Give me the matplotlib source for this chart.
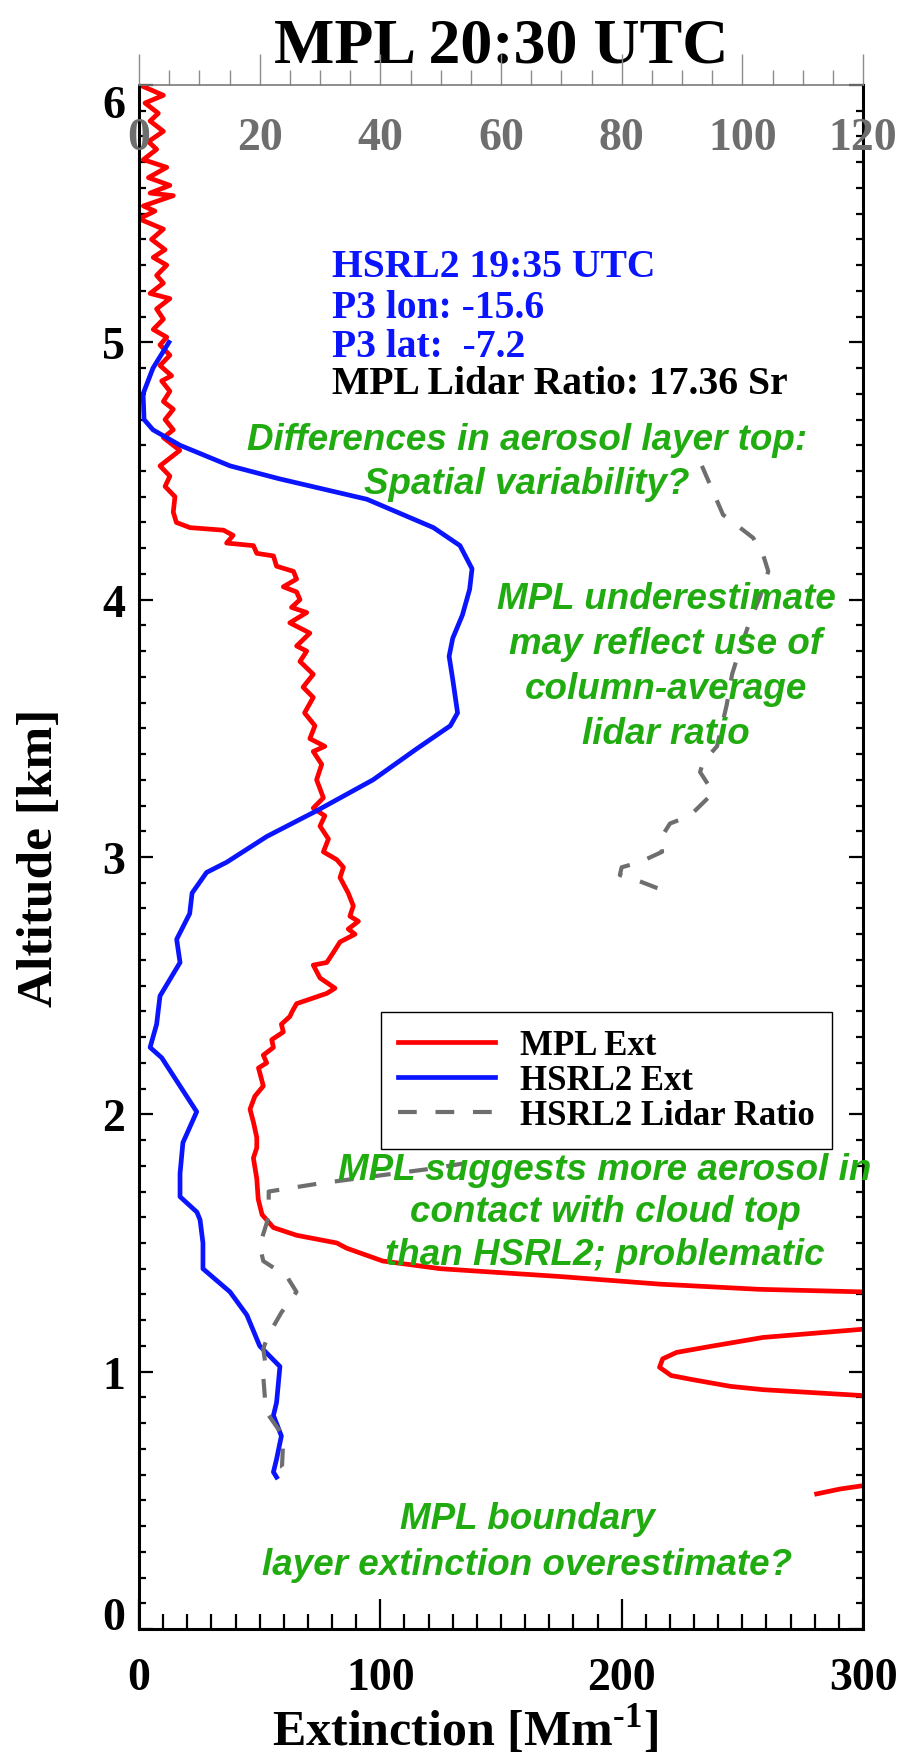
import numpy as np
import matplotlib.pyplot as plt

plt.rcParams['font.family'] = ['Liberation Serif', 'DejaVu Serif']
plt.rcParams['font.weight'] = 'bold'
plt.rcParams['axes.labelweight'] = 'bold'
plt.rcParams['mathtext.fontset'] = 'custom'
plt.rcParams['mathtext.rm'] = 'Liberation Serif:bold'
plt.rcParams['mathtext.bf'] = 'Liberation Serif:bold'

# MPL extinction profile (Mm-1), altitude in km; NaN marks where the curve leaves the plot
mpl_alt = [6.00, 5.96, 5.93, 5.89, 5.86, 5.82, 5.78, 5.75, 5.71, 5.68, 5.64, 5.61, 5.58, 5.57,
           5.53, 5.51, 5.48, 5.44, 5.40, 5.36, 5.33, 5.30, 5.26, 5.23, 5.19, 5.17, 5.13, 5.09,
           5.05, 5.02, 4.99, 4.95, 4.91, 4.87, 4.85, 4.81, 4.77, 4.74, 4.70, 4.66, 4.63, 4.58,
           4.52, 4.48, 4.44, 4.40, 4.34, 4.30, 4.28, 4.27, 4.25, 4.22, 4.21, 4.18, 4.17, 4.13,
           4.11, 4.08, 4.05, 4.03, 4.00, 3.97, 3.95, 3.91, 3.87, 3.82, 3.80, 3.76, 3.71, 3.66,
           3.62, 3.56, 3.51, 3.46, 3.43, 3.41, 3.36, 3.30, 3.23, 3.19, 3.16, 3.12, 3.07, 3.02,
           2.99, 2.96, 2.92, 2.86, 2.81, 2.77, 2.75, 2.72, 2.70, 2.67, 2.63, 2.59, 2.58, 2.53,
           2.49, 2.47, 2.43, 2.40, 2.38, 2.35, 2.32, 2.29, 2.26, 2.23, 2.20, 2.18, 2.16, 2.11,
           2.07, 2.02, 1.97, 1.91, 1.87, 1.83, 1.75, 1.67, 1.61, 1.56, 1.53, 1.50, 1.48, 1.43,
           1.40, 1.37, 1.34, 1.32, 1.31, np.nan,
           1.165, 1.133, 1.10, 1.075, 1.05, 1.017, 0.985, 0.97, 0.943, 0.93, 0.907, np.nan,
           0.557, 0.544, 0.525]
mpl_ext = [0.3, 10.1, 2.5, 8.0, 4.6, 10.1, 3.9, 7.3, 1.8, 11.5, 3.9, 12.8, 4.6, 14.2,
           1.8, 6.6, 0.0, 10.1, 5.2, 10.8, 5.9, 11.5, 7.3, 10.1, 4.6, 12.8, 7.3, 10.1,
           5.9, 11.5, 8.7, 12.8, 8.7, 13.5, 9.4, 12.8, 10.1, 14.2, 10.8, 14.2, 10.1, 16.9,
           8.7, 12.8, 10.8, 14.9, 14.2, 15.5, 21.1, 35.0, 39.0, 36.3, 47.4, 48.8, 55.7, 57.0,
           64.0, 65.3, 59.8, 65.3, 66.7, 63.2, 69.5, 62.5, 70.8, 65.3, 69.5, 66.7, 72.2, 68.0,
           72.2, 68.6, 72.9, 70.8, 77.0, 72.2, 75.7, 73.6, 76.4, 72.2, 77.0, 75.0, 78.5, 76.4,
           81.9, 84.7, 83.3, 86.7, 88.8, 87.4, 90.9, 86.7, 89.5, 83.3, 80.6, 77.8, 72.2, 75.0,
           81.2, 77.8, 65.3, 63.5, 62.5, 59.0, 59.8, 55.0, 55.7, 51.5, 52.9, 49.5, 50.1, 51.5,
           48.0, 46.0, 47.4, 48.8, 48.8, 47.4, 48.8, 49.4, 51.0, 55.7, 65.3, 82.0, 86.0, 101.0,
           125.0, 174.0, 216.0, 257.0, 300.0, np.nan,
           300.0, 258.6, 237.9, 222.8, 217.0, 215.7, 220.5, 228.8, 245.0, 258.6, 300.0, np.nan,
           300.0, 290.5, 280.8]

# HSRL2 extinction profile (Mm-1)
hsrl_alt = [5.00, 4.90, 4.80, 4.70, 4.66, 4.60, 4.52, 4.47, 4.39, 4.28, 4.21, 4.12, 4.04,
            3.94, 3.85, 3.78, 3.69, 3.56, 3.51, 3.42, 3.30, 3.18, 3.08, 2.98, 2.94, 2.86,
            2.78, 2.68, 2.59, 2.46, 2.35, 2.26, 2.22, 2.01, 1.89, 1.77, 1.68, 1.62, 1.59,
            1.50, 1.40, 1.31, 1.22, 1.10, 1.02, 0.88, 0.83, 0.75, 0.66, 0.61, 0.59]
hsrl_ext = [12.4, 5.8, 1.7, 2.1, 5.8, 17.0, 37.7, 58.0, 94.5, 122.0, 133.0, 138.0, 137.0,
            134.0, 130.0, 128.5, 130.0, 132.0, 129.0, 115.0, 97.0, 73.7, 53.0, 36.4, 28.0, 22.0,
            21.0, 15.6, 17.0, 8.7, 7.3, 4.6, 9.4, 23.9, 18.2, 17.0, 17.0, 24.0, 25.3,
            26.5, 26.5, 37.7, 44.7, 50.0, 58.4, 57.0, 55.7, 59.0, 57.0, 55.7, 57.0]

# HSRL2 lidar ratio (Sr), gap where no retrieval
lr_alt = [4.52, 4.33, 4.28, 4.24, 4.17, 4.11, 4.01, 3.90, 3.77, 3.71, 3.59, 3.43, 3.37,
          3.33, 3.25, 3.16, 3.13, 3.07, 3.02, 2.98, 2.96, 2.93, 2.91, 2.88, 2.86, np.nan,
          1.81, 1.79, 1.73, 1.70, 1.62, 1.58, 1.49, 1.43, 1.37, 1.31, 1.23, 1.14, 1.09,
          1.02, 0.98, 0.89, 0.84, 0.75, 0.73, 0.63, 0.59]
lr_val = [93.3, 96.8, 99.6, 101.8, 103.5, 104.3, 102.9, 101.0, 99.1, 98.3, 97.4, 95.8, 93.5,
          93.0, 95.2, 91.3, 88.0, 86.4, 86.7, 83.0, 80.0, 79.7, 82.5, 85.8, 88.5, np.nan,
          54.0, 48.8, 29.5, 21.5, 21.5, 21.2, 20.0, 20.6, 24.5, 26.1, 23.6, 21.4, 20.6,
          21.0, 20.6, 20.9, 21.2, 23.9, 23.9, 23.7, 25.4]

GREEN = '#20ab10'
GRAY = '#6e6e6e'
BLUE = '#0a14ff'

fig = plt.figure(figsize=(9.08, 17.56), dpi=100)
ax = fig.add_axes([139 / 908, 126 / 1756, 724 / 908, 1544 / 1756])
ax2 = ax.twiny()

l1, = ax.plot(mpl_ext, mpl_alt, color='red', lw=3.4, label='MPL Ext')
l2, = ax.plot(hsrl_ext, hsrl_alt, color=BLUE, lw=3.4, label='HSRL2 Ext')
l3, = ax2.plot(lr_val, lr_alt, color=GRAY, lw=3.0, dashes=(4.5, 4.5),
               label='HSRL2 Lidar Ratio')

ax.set_xlim(0, 300)
ax.set_ylim(0, 6)
ax2.set_xlim(0, 120)

# bottom / left / right axes
ax.set_xticks([0, 100, 200, 300])
ax.set_xticks(np.arange(0, 301, 10), minor=True)
ax.set_yticks(range(7))
ax.set_yticks(np.arange(0, 6.01, 0.1), minor=True)
ax.tick_params(axis='x', which='both', direction='in', top=False, width=1.6,
               labelsize=33, pad=20)
ax.tick_params(axis='x', which='major', length=21.5)
ax.tick_params(axis='x', which='minor', length=10.5)
ax.tick_params(axis='y', which='both', direction='in', left=True, right=True, width=1.6,
               labelsize=33, pad=10)
ax.tick_params(axis='y', which='major', length=10)
ax.tick_params(axis='y', which='minor', length=5)
for s in ['left', 'right', 'bottom']:
    ax.spines[s].set_linewidth(2.2)
ax.spines['top'].set_visible(False)

ylabs = ax.get_yticklabels()
ylabs[0].set_va('baseline')
ylabs[-1].set_va('top')

# top axis for the lidar ratio, labels drawn inside the plot
ax2.set_xticks(np.arange(0, 121, 20))
ax2.set_xticks(np.arange(0, 121, 5), minor=True)
ax2.tick_params(axis='x', which='both', direction='out', color='#8c8c8c', width=1.0,
                labelcolor=GRAY, labelsize=33)
ax2.tick_params(axis='x', which='major', length=22, pad=-75)
ax2.tick_params(axis='x', which='minor', length=11)
for s in ['left', 'right', 'bottom']:
    ax2.spines[s].set_visible(False)
ax2.spines['top'].set_color('#7a7a7a')
ax2.spines['top'].set_linewidth(1.2)

ax.set_xlabel(r'Extinction [Mm$^{\text{-1}}$]', fontsize=36, fontweight='bold')
ax.xaxis.set_label_coords(0.45, -0.047)
ax.set_ylabel('Altitude [km]', fontsize=37, fontweight='bold')
ax.yaxis.set_label_coords(-0.105, 0.5)

ax.text(0.5, 1.0155, 'MPL 20:30 UTC', transform=ax.transAxes, ha='center',
        va='baseline', fontsize=46)

# flight info
info = [('HSRL2 19:35 UTC', BLUE, 0.8763),
        ('P3 lon: -15.6', BLUE, 0.8497),
        ('P3 lat:  -7.2', BLUE, 0.8245),
        ('MPL Lidar Ratio: 17.36 Sr', 'black', 0.8005)]
for txt, c, y in info:
    ax2.text(0.2666, y, txt, color=c, fontsize=28.5, transform=ax2.transAxes,
             va='baseline', ha='left')


def note(lines, xc, ys):
    for txt, y in zip(lines, ys):
        ax2.text((xc - 139) / 724, (1630 - y) / 1544, txt, color=GREEN, fontsize=26.5,
                 family='Liberation Sans', style='italic', weight='bold',
                 ha='center', va='center', transform=ax2.transAxes, clip_on=False)


note(['Differences in aerosol layer top:', 'Spatial variability?'], 527, [440, 485])
note(['MPL underestimate', 'may reflect use of', 'column-average', 'lidar ratio'],
     666, [600, 645, 690, 735])
note(['MPL suggests more aerosol in', 'contact with cloud top', 'than HSRL2; problematic'],
     605, [1170, 1212, 1256])
note(['MPL boundary', 'layer extinction overestimate?'], 527, [1520, 1566])

leg = ax2.legend([l1, l2, l3], ['MPL Ext', 'HSRL2 Ext', 'HSRL2 Lidar Ratio'],
                 loc='upper left', bbox_to_anchor=(0.334, 0.3996), borderaxespad=0,
                 fontsize=25, handlelength=2.8, handletextpad=0.7, labelspacing=0.05,
                 borderpad=0.5, fancybox=False, framealpha=1, edgecolor='black')
leg.get_frame().set_linewidth(1.0)

fig.savefig('out.png', dpi=100)
